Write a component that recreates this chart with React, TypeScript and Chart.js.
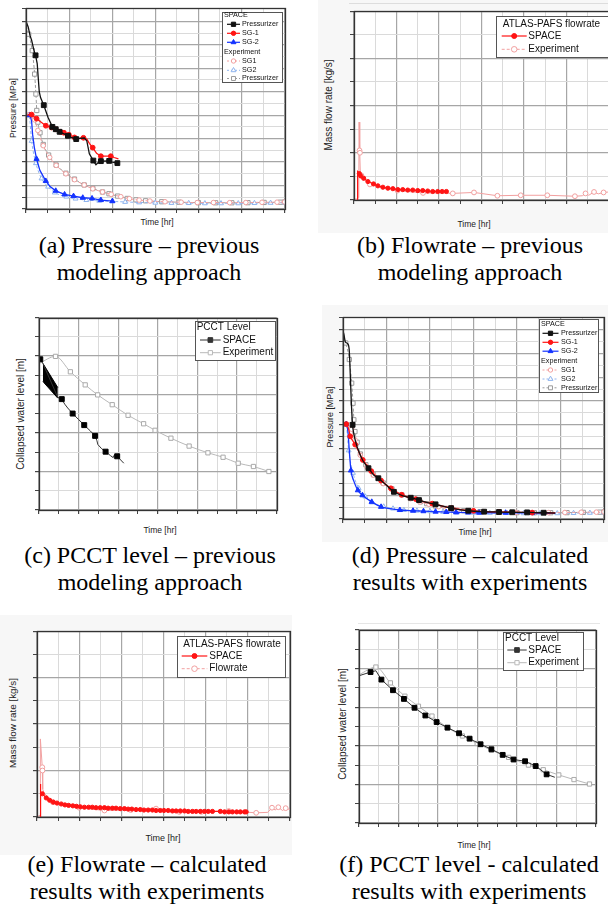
import React, { useEffect, useRef } from "react";
import { Chart, registerables } from "chart.js";

Chart.register(...registerables);

type P = [number, number];

const SANS = "'Liberation Sans', Arial, Helvetica, sans-serif";
const SERIF = "'Liberation Serif', 'Times New Roman', Times, serif";

const BLACK = "#111111";
const RED = "#ff1414";
const BLUE = "#1433ff";
const EXP_RED = "#f2a0a0";
const EXP_BLUE = "#8fb4ee";
const EXP_GRAY = "#9b9b9b";
const LVL_GRAY = "#b9b9b9";

// ---------- shared time axis ----------
const TIME_MAX = 24;

// ---------- (a) pressure, previous modelling ----------
const aSpacePzr: P[] = [[0,16.0],[0.21,15.5],[0.37,14.8],[0.52,14.4],[0.77,13.4],[0.89,13.1],[1.04,12.4],[1.23,10.0],[1.35,9.5],[1.65,8.85],[2.05,7.8],[2.45,7.0],[2.76,6.8],[3.12,6.58],[3.58,6.38],[3.89,6.24],[4.2,6.1],[4.66,5.96],[4.96,6.02],[5.42,6.05],[5.64,5.82],[5.88,4.7],[6.25,4.13],[6.49,3.77],[6.8,4.05],[6.95,4.08],[7.72,4.1],[8.02,3.99],[8.48,3.91]];
const aSpacePzrMarks = [5,9,11,12,13,15,17,22,25,26,28];
const aSpaceSg1: P[] = [[0,8.0],[0.52,8.05],[0.98,7.7],[1.84,7.1],[2.36,6.95],[2.76,6.8],[3.19,6.58],[3.52,6.5],[3.98,6.33],[4.5,6.1],[4.87,6.0],[5.33,6.07],[5.64,5.96],[5.88,5.6],[6.19,5.23],[6.55,4.75],[6.95,4.5],[7.41,4.5],[7.87,4.5],[8.18,4.39],[8.58,4.27]];
const aSpaceSg1Marks = [1,2,3,4,5,6,7,8,9,11,14,16,18];
const aSpaceSg2: P[] = [[0,7.93],[0.37,8.0],[0.52,7.5],[0.61,6.38],[0.77,5.26],[0.98,4.27],[1.29,3.29],[1.84,2.39],[2.21,1.94],[2.76,1.55],[3.58,1.24],[4.41,1.1],[5.27,0.96],[6.13,0.9],[6.95,0.76],[8.02,0.67]];
const aSpaceSg2Marks = [1,5,7,9,10,11,12,13,14,15];

// ---------- (d) pressure, calculated ----------
const dSpacePzr: P[] = [[0,15.9],[0.09,15.6],[0.21,15.0],[0.46,14.8],[0.58,14.2],[0.67,12.2],[0.76,10.0],[0.88,7.97],[1.0,7.2],[1.2,6.4],[1.5,5.6],[1.82,4.95],[2.34,4.3],[2.8,3.75],[3.25,3.45],[3.95,2.9],[4.68,2.3],[5.53,1.95],[6.23,1.8],[6.99,1.6],[7.96,1.35],[8.51,1.24],[9.18,1.08],[9.94,0.92],[10.7,0.8],[11.52,0.7],[12.98,0.62],[14.35,0.59],[15.56,0.57],[16.93,0.56],[18.45,0.53],[19.51,0.5]];
const dSpacePzrMarks = [7,12,14,16,18,19,21,23,25,26,27,28,29,30];
const dSpaceSg1: P[] = [[0,7.97],[0.3,8.03],[0.52,7.6],[0.67,7.0],[0.91,6.6],[1.12,6.3],[1.4,5.8],[1.82,5.0],[2.2,4.55],[2.6,4.05],[3.0,3.65],[3.5,3.25],[3.9,2.95],[4.4,2.6],[4.9,2.3],[5.4,2.05],[6.0,1.85],[6.7,1.68],[7.4,1.48],[8.2,1.3],[9.1,1.1],[10.0,0.92],[11.0,0.78],[12.0,0.69],[13.13,0.63],[14.35,0.6],[15.87,0.57],[17.39,0.54],[19.51,0.51]];
const dSpaceSg1Marks = [1,3,5,7,9,11,13,15,17,19,21,23,25,27];
const dSpaceSg2: P[] = [[0,8.03],[0.3,8.03],[0.46,7.33],[0.58,5.79],[0.73,4.11],[0.97,3.27],[1.37,2.43],[1.79,2.01],[2.64,1.45],[3.5,1.03],[4.32,0.87],[5.23,0.76],[6.44,0.7],[7.4,0.66],[8.51,0.62],[9.5,0.59],[10.4,0.56],[11.5,0.54],[12.52,0.53],[14.95,0.53],[17.39,0.5],[19.51,0.48]];
const dSpaceSg2Marks = [1,4,6,7,8,9,11,12,13,14,15,16,17,18,19,20];

// ---------- experiment pressures (a) and (d) ----------
const expPzr: P[] = [[0,15.6],[0.25,14.9],[0.58,13.5],[0.8,11.5],[0.92,9.8],[1.0,8.4],[1.1,7.4],[1.3,6.5],[1.6,5.5],[2.1,4.6],[2.8,3.75],[3.7,3.05],[4.5,2.55],[5.4,2.05],[6.2,1.75],[7.1,1.45],[7.7,1.3],[8.5,1.1],[9.4,0.9],[10.2,0.78],[11.1,0.7],[12.6,0.62],[14.2,0.58],[16.0,0.54],[17.6,0.53],[19.1,0.53],[20.6,0.54],[22.1,0.56],[23.6,0.58],[24,0.6]];
const expSg1: P[] = [[0,8.05],[0.3,8.05],[0.55,7.95],[0.8,7.6],[1.1,6.7],[1.6,5.4],[2.2,4.4],[2.8,3.72],[3.7,3.0],[4.5,2.5],[5.4,2.05],[6.2,1.72],[7.1,1.45],[7.9,1.25],[8.8,1.05],[9.6,0.88],[10.5,0.76],[11.5,0.68],[12.9,0.62],[14.4,0.58],[15.9,0.55],[17.4,0.55],[18.9,0.54],[20.4,0.55],[21.9,0.57],[23.3,0.58],[24,0.6]];
const expSg2: P[] = [[0,8.2],[0.3,7.95],[0.52,5.8],[0.92,3.9],[1.44,2.6],[2.05,1.9],[2.66,1.4],[3.74,1.05],[4.6,0.88],[5.6,0.76],[6.8,0.7],[8.0,0.65],[9.2,0.6],[10.5,0.56],[12.0,0.53],[13.5,0.51],[15.1,0.5],[16.6,0.48],[18.1,0.48],[19.7,0.48],[21.2,0.5],[22.7,0.52],[24,0.55]];

// ---------- (b) flowrate, previous ----------
const bSpace: P[] = [[0.32,0],[0.34,0.6],[0.4,0.58],[0.5,0.56],[0.63,0.51],[0.91,0.46],[1.31,0.39],[1.84,0.34],[2.25,0.3],[2.72,0.27],[3.19,0.25],[3.66,0.24],[4.13,0.22],[4.59,0.22],[5.06,0.21],[5.53,0.21],[6.0,0.2],[6.47,0.2],[6.94,0.19],[7.41,0.18],[7.88,0.18],[8.3,0.18],[8.7,0.18]];
const bExp: P[] = [[0,0.02],[0.3,0.02],[0.45,0.05],[0.48,1.65],[0.52,1.05],[0.56,1.0],[0.6,0.55],[0.7,0.52],[1.5,0.33],[4.1,0.2],[6.5,0.15],[9.3,0.14],[11.3,0.16],[13.5,0.09],[15.7,0.1],[18.2,0.1],[20.8,0.08],[21.5,0.09],[21.8,0.14],[22.1,0.1],[22.6,0.17],[23.0,0.13],[23.5,0.16],[24,0.17]];
const bExpMarks = [4,5,7,8,9,10,11,12,13,14,15,16,18,20,22];

// ---------- (e) flowrate, calculated ----------
const eSpace: P[] = [[0.3,0.0],[0.32,0.71],[0.36,0.52],[0.51,0.5],[0.88,0.41],[1.2,0.36],[1.55,0.32],[1.9,0.3],[2.3,0.28],[2.65,0.26],[3.0,0.25],[3.4,0.24],[3.75,0.23],[4.1,0.22],[4.5,0.21],[4.9,0.21],[5.25,0.21],[5.6,0.2],[6.0,0.2],[6.4,0.2],[6.75,0.19],[7.15,0.19],[7.5,0.19],[7.9,0.18],[8.3,0.18],[8.65,0.17],[9.0,0.17],[9.4,0.16],[9.8,0.16],[10.15,0.15],[10.55,0.15],[10.95,0.15],[11.3,0.14],[11.7,0.14],[12.05,0.14],[12.45,0.14],[12.85,0.13],[13.2,0.13],[13.6,0.13],[14.0,0.13],[14.35,0.12],[14.75,0.12],[15.1,0.12],[15.5,0.12],[15.9,0.12],[16.25,0.12],[16.65,0.12],[17.4,0.12],[17.8,0.11],[18.2,0.11],[18.55,0.11],[18.95,0.11],[19.3,0.11],[19.7,0.11],[19.85,0.11]];
const eExp: P[] = [[0,0.02],[0.2,0.02],[0.29,0.05],[0.32,1.68],[0.5,1.07],[0.52,1.0],[0.56,0.6],[0.65,0.52],[1.5,0.32],[4.0,0.2],[6.4,0.14],[8.9,0.15],[11.3,0.18],[13.5,0.11],[15.6,0.11],[18.2,0.13],[20.8,0.09],[21.9,0.1],[22.3,0.2],[22.6,0.15],[22.9,0.21],[23.3,0.14],[23.6,0.19],[24,0.16]];
const eExpMarks = [4,5,8,9,10,11,12,13,14,15,16,18,20,22];

// ---------- (c) PCCT level, previous ----------
const cSpace: P[] = [[0.13,7.83],[0.4,7.61],[1.9,5.85],[2.3,5.76],[2.6,5.5],[2.9,5.3],[3.4,5.01],[4.0,4.7],[4.57,4.41],[5.2,4.1],[5.67,3.85],[5.85,3.6],[5.95,3.4],[6.3,3.2],[6.73,3.03],[7.23,2.82],[7.5,2.72],[7.6,2.85],[7.9,2.79],[8.57,2.43]];
const cSpaceMarks = [0,3,6,8,10,14,18];
const cBandUpper: P[] = [[0.4,7.61],[1.9,6.36]];
const cBandLower: P[] = [[0.4,6.7],[0.47,6.63],[1.9,5.81]];
const cExp: P[] = [[0,7.61],[1.67,7.98],[3.17,7.18],[4.67,6.5],[5.93,5.98],[7.4,5.47],[9.0,4.92],[10.57,4.48],[11.73,4.14],[13.33,3.73],[15.17,3.32],[17.07,2.97],[18.6,2.74],[20.13,2.43],[21.67,2.26],[23.23,2.0]];

// ---------- (f) PCCT level, calculated ----------
const fSpace: P[] = [[0,7.63],[1.17,7.82],[1.71,7.89],[2.27,7.43],[3.44,6.88],[4.55,6.43],[5.62,5.97],[6.72,5.57],[7.86,5.23],[8.96,4.94],[10.13,4.65],[11.2,4.37],[12.31,4.08],[13.41,3.82],[14.55,3.53],[15.65,3.29],[16.82,3.2],[17.89,2.95],[19.0,2.52],[19.83,2.37]];
const fSpaceMarks = [1,3,4,5,6,7,8,9,10,11,12,13,14,15,16,17,18];
const fExp: P[] = [[0,7.68],[1.71,8.08],[3.18,7.26],[4.65,6.57],[6.02,6.05],[7.39,5.54],[8.96,4.94],[10.47,4.51],[11.97,4.12],[13.41,3.77],[15.15,3.4],[17.16,3.0],[18.66,2.76],[20.23,2.49],[21.77,2.25],[23.34,2.02]];

// ---------- helpers ----------
type Marks = number[] | { from: number };
interface SOpt {
  color: string; width?: number; dash?: number[]; marker?: string; r?: number;
  filled?: boolean; marks?: Marks; smooth?: boolean; markColor?: string; fill?: any; bg?: string;
}
function series(data: P[], o: SOpt) {
  const isMarked = (i: number) => {
    const m = o.marks;
    if (!m) return false;
    if (Array.isArray(m)) return m.includes(i);
    return i >= m.from;
  };
  return {
    data: data.map(([x, y]) => ({ x, y })),
    borderColor: o.color,
    backgroundColor: o.bg ?? o.color,
    borderWidth: o.width ?? 1,
    borderDash: o.dash ?? [],
    pointStyle: o.marker ?? "circle",
    pointRadius: (c: any) => (isMarked(c.dataIndex) ? o.r ?? 2.5 : 0),
    pointHoverRadius: 0,
    pointBackgroundColor: o.filled ? o.markColor ?? o.color : "#ffffff",
    pointBorderColor: o.markColor ?? o.color,
    pointBorderWidth: 1,
    cubicInterpolationMode: o.smooth ? "monotone" : "default",
    tension: 0,
    fill: o.fill ?? false,
  };
}

function drawMarker(ctx: CanvasRenderingContext2D, kind: string | undefined, x: number, y: number, r: number, filled: boolean, color: string) {
  if (!kind) return;
  ctx.save();
  ctx.setLineDash([]);
  ctx.lineWidth = 1;
  ctx.strokeStyle = color;
  ctx.fillStyle = filled ? color : "#ffffff";
  ctx.beginPath();
  if (kind === "circle") ctx.arc(x, y, r, 0, Math.PI * 2);
  else if (kind === "rect") { const s = r * Math.SQRT1_2; ctx.rect(x - s, y - s, 2 * s, 2 * s); }
  else if (kind === "triangle") {
    ctx.moveTo(x, y - r);
    ctx.lineTo(x + r * 0.866, y + r * 0.5);
    ctx.lineTo(x - r * 0.866, y + r * 0.5);
    ctx.closePath();
  }
  ctx.fill();
  ctx.stroke();
  ctx.restore();
}

interface LegendItem { text: string; y: number; color?: string; dash?: number[]; marker?: string; r?: number; filled?: boolean; width?: number }
interface LegendCfg { box: [number, number, number, number]; font: number; headX: number; lineX: [number, number]; textX: number; items: LegendItem[] }

function legendPlugin(L: LegendCfg, ox: number, oy: number) {
  return {
    id: "boxLegend",
    afterDraw(chart: any) {
      const ctx: CanvasRenderingContext2D = chart.ctx;
      ctx.save();
      const [bx, by, bw, bh] = L.box;
      const x0 = Math.round(bx - ox) + 0.5, y0 = Math.round(by - oy) + 0.5;
      ctx.fillStyle = "#ffffff";
      ctx.fillRect(x0, y0, bw, bh);
      ctx.strokeStyle = "#555555";
      ctx.lineWidth = 1;
      ctx.strokeRect(x0, y0, Math.round(bw), Math.round(bh));
      ctx.font = `${L.font}px ${SANS}`;
      ctx.textBaseline = "middle";
      for (const it of L.items) {
        const y = it.y - oy;
        if (!it.color) {
          ctx.fillStyle = "#111111";
          ctx.fillText(it.text, L.headX - ox, y);
          continue;
        }
        ctx.strokeStyle = it.color;
        ctx.lineWidth = it.width ?? 1;
        ctx.setLineDash(it.dash ?? []);
        ctx.beginPath();
        ctx.moveTo(L.lineX[0] - ox, y);
        ctx.lineTo(L.lineX[1] - ox, y);
        ctx.stroke();
        ctx.setLineDash([]);
        drawMarker(ctx, it.marker, (L.lineX[0] + L.lineX[1]) / 2 - ox, y, it.r ?? 2.5, !!it.filled, it.color);
        ctx.fillStyle = "#111111";
        ctx.fillText(it.text, L.textX - ox, y);
      }
      ctx.restore();
    },
  };
}

const framePlugin = {
  id: "originFrame",
  beforeDraw(chart: any) {
    const { ctx, chartArea: a } = chart;
    ctx.save();
    ctx.fillStyle = "#ffffff";
    ctx.fillRect(a.left, a.top, a.right - a.left, a.bottom - a.top);
    ctx.restore();
  },
  afterDatasetsDraw(chart: any) {
    const { ctx, chartArea: a } = chart;
    ctx.save();
    ctx.strokeStyle = "#333333";
    ctx.lineWidth = 1.3;
    const l = Math.round(a.left) + 0.5, t = Math.round(a.top) + 0.5;
    ctx.strokeRect(l, t, Math.round(a.right) - Math.round(a.left), Math.round(a.bottom) - Math.round(a.top));
    ctx.restore();
  },
};

const MAJOR = "#a6a6a6";
const MINOR = "#dadada";

interface PanelCfg {
  l: number; t: number; r: number; b: number;
  yMax: number; yStep: number; yMajor: number;
  datasets: any[]; legend: LegendCfg;
}

const PAD_L = 6, PAD_T = 2, PAD_R = 2, PAD_B = 6;

function Plot({ p }: { p: PanelCfg }) {
  const ref = useRef<HTMLCanvasElement | null>(null);
  const cl = p.l - PAD_L, ct = p.t - PAD_T;
  const w = p.r - p.l + PAD_L + PAD_R, h = p.b - p.t + PAD_T + PAD_B;
  useEffect(() => {
    if (!ref.current) return;
    const isMaj = (v: number, m: number) => Math.abs(v / m - Math.round(v / m)) < 1e-6;
    const chart = new Chart(ref.current, {
      type: "line",
      data: { datasets: p.datasets },
      options: {
        responsive: false,
        animation: false,
        devicePixelRatio: 1,
        events: [],
        layout: { padding: { left: 2, right: 2, top: 2, bottom: 2 } },
        plugins: { legend: { display: false }, tooltip: { enabled: false } },
        scales: {
          x: {
            type: "linear", min: 0, max: TIME_MAX,
            ticks: { display: false, stepSize: 2, autoSkip: false },
            grid: {
              color: (c: any) => (isMaj(c.tick.value, 4) ? MAJOR : MINOR),
              lineWidth: (c: any) => (isMaj(c.tick.value, 4) ? 1.2 : 1),
              tickLength: 4, tickColor: "#444444", drawTicks: true,
            },
            border: { display: false },
          },
          y: {
            type: "linear", min: 0, max: p.yMax,
            ticks: { display: false, stepSize: p.yStep, autoSkip: false },
            grid: {
              color: (c: any) => (isMaj(c.tick.value, p.yMajor) ? MAJOR : MINOR),
              lineWidth: (c: any) => (isMaj(c.tick.value, p.yMajor) ? 1.2 : 1),
              tickLength: 4, tickColor: "#444444", drawTicks: true,
            },
            border: { display: false },
          },
        },
      } as any,
      plugins: [framePlugin, legendPlugin(p.legend, cl, ct)],
    });
    return () => chart.destroy();
  }, []);
  return <canvas ref={ref} width={w} height={h} style={{ position: "absolute", left: cl, top: ct, width: w, height: h }} />;
}

// ---------- panel definitions ----------
const pressureSets = (pzr: P[], pzrM: number[], sg1: P[], sg1M: number[], sg2: P[], sg2M: number[], smooth: boolean) => [
  series(pzr, { color: BLACK, width: 1.3, marker: "rect", r: 3.4, filled: true, marks: pzrM, smooth }),
  series(sg1, { color: RED, width: 1.3, marker: "circle", r: 2.4, filled: true, marks: sg1M, smooth }),
  series(sg2, { color: BLUE, width: 1.3, marker: "triangle", r: 3, filled: true, marks: sg2M, smooth }),
  series(expSg1, { color: EXP_RED, width: 1, dash: [3, 2], marker: "circle", r: 2.3, marks: { from: 1 }, smooth: true }),
  series(expSg2, { color: EXP_BLUE, width: 1, dash: [3, 2], marker: "triangle", r: 2.8, marks: { from: 1 }, smooth: true }),
  series(expPzr, { color: EXP_GRAY, width: 1, dash: [3, 2], marker: "rect", r: 3, marks: { from: 1 }, smooth: true }),
];

const pressureLegend = (box: [number, number, number, number], headX: number, lineX: [number, number], textX: number, ys: number[]): LegendCfg => ({
  box, font: 7.2, headX, lineX, textX,
  items: [
    { text: "SPACE", y: ys[0] },
    { text: "Pressurizer", y: ys[1], color: BLACK, marker: "rect", r: 3, filled: true, width: 1.2 },
    { text: "SG-1", y: ys[2], color: RED, marker: "circle", r: 2.2, filled: true, width: 1.2 },
    { text: "SG-2", y: ys[3], color: BLUE, marker: "triangle", r: 2.8, filled: true, width: 1.2 },
    { text: "Experiment", y: ys[4] },
    { text: "SG1", y: ys[5], color: EXP_RED, dash: [2, 2], marker: "circle", r: 2.2 },
    { text: "SG2", y: ys[6], color: EXP_BLUE, dash: [2, 2], marker: "triangle", r: 2.8 },
    { text: "Pressurizer", y: ys[7], color: EXP_GRAY, dash: [2, 2], marker: "rect", r: 2.8 },
  ],
});

const flowLegend = (box: [number, number, number, number], headX: number, lineX: [number, number], textX: number, ys: number[], expName: string): LegendCfg => ({
  box, font: 10, headX, lineX, textX,
  items: [
    { text: "ATLAS-PAFS flowrate", y: ys[0] },
    { text: "SPACE", y: ys[1], color: RED, marker: "circle", r: 2.5, filled: true, width: 1.2 },
    { text: expName, y: ys[2], color: EXP_RED, dash: [3, 2], marker: "circle", r: 2.8 },
  ],
});

const levelLegend = (box: [number, number, number, number], headX: number, lineX: [number, number], textX: number, ys: number[]): LegendCfg => ({
  box, font: 10, headX, lineX, textX,
  items: [
    { text: "PCCT Level", y: ys[0] },
    { text: "SPACE", y: ys[1], color: "#333333", marker: "rect", r: 3.3, filled: true, width: 1 },
    { text: "Experiment", y: ys[2], color: LVL_GRAY, marker: "rect", r: 3.0, width: 1 },
  ],
});

const panelA: PanelCfg = {
  l: 26, t: 6, r: 287, b: 209, yMax: 17.1, yStep: 1, yMajor: 2,
  datasets: pressureSets(aSpacePzr, aSpacePzrMarks, aSpaceSg1, aSpaceSg1Marks, aSpaceSg2, aSpaceSg2Marks, false),
  legend: pressureLegend([222, 12, 60, 70], 224, [227, 240], 242, [15.5, 24.3, 33.3, 42.3, 51.7, 61, 70.3, 78.5]),
};
const panelD: PanelCfg = {
  l: 343, t: 315, r: 606, b: 519, yMax: 17.1, yStep: 1, yMajor: 2,
  datasets: pressureSets(dSpacePzr, dSpacePzrMarks, dSpaceSg1, dSpaceSg1Marks, dSpaceSg2, dSpaceSg2Marks, true),
  legend: pressureLegend([539, 319, 59, 73], 541, [542.5, 558.5], 561, [324.3, 333.3, 342.3, 351.2, 360.7, 370, 379, 387.8]),
};
const panelB: PanelCfg = {
  l: 354, t: 10, r: 610, b: 200, yMax: 4, yStep: 0.5, yMajor: 1,
  datasets: [
    series(bSpace, { color: RED, width: 1.2, marker: "circle", r: 2.1, filled: true, marks: { from: 3 } }),
    series(bExp, { color: EXP_RED, width: 1, marker: "circle", r: 2.4, marks: bExpMarks }),
  ],
  legend: flowLegend([496, 16, 118, 41], 502.7, [501.7, 526.7], 528.3, [24, 36, 49.3], "Experiment"),
};
const panelE: PanelCfg = {
  l: 37, t: 630, r: 291, b: 817, yMax: 4, yStep: 0.5, yMajor: 1,
  datasets: [
    series(eSpace, { color: RED, width: 1.2, marker: "circle", r: 2.1, filled: true, marks: { from: 3 } }),
    series(eExp, { color: EXP_RED, width: 1, marker: "circle", r: 2.4, marks: eExpMarks }),
  ],
  legend: flowLegend([177, 636, 108, 41], 183.3, [181.7, 207.3], 209.3, [644, 656, 668.7], "Flowrate"),
};
const panelC: PanelCfg = {
  l: 39, t: 315, r: 279, b: 510, yMax: 10, yStep: 1, yMajor: 2,
  datasets: [
    series(cSpace, { color: "#333333", width: 1, marker: "rect", r: 3.5, filled: true, marks: cSpaceMarks, markColor: "#000000" }),
    series(cBandUpper, { color: "#000000", width: 1, fill: "+1", bg: "#000000" }),
    series(cBandLower, { color: "#000000", width: 1 }),
    series(cExp, { color: LVL_GRAY, width: 1, marker: "rect", r: 3.0, marks: { from: 1 }, smooth: true, markColor: "#aaaaaa" }),
  ],
  legend: levelLegend([195, 321, 80, 39], 196.7, [200, 220.7], 222.7, [327.3, 340, 352.7]),
};
const panelF: PanelCfg = {
  l: 359, t: 628, r: 598, b: 823, yMax: 10, yStep: 1, yMajor: 2,
  datasets: [
    series(fSpace, { color: "#333333", width: 1, marker: "rect", r: 3.4, filled: true, marks: fSpaceMarks, markColor: "#000000" }),
    series(fExp, { color: LVL_GRAY, width: 1, marker: "rect", r: 3.0, marks: { from: 1 }, smooth: true, markColor: "#aaaaaa" }),
  ],
  legend: levelLegend([503, 632, 80, 38], 505, [507.3, 526.7], 528.3, [638.3, 650, 662.7]),
};

// ---------- text ----------
function Label({ x, y, text, size, rotate }: { x: number; y: number; text: string; size: number; rotate?: boolean }) {
  return (
    <div
      style={{
        position: "absolute", left: x, top: y, fontFamily: SANS, fontSize: size, color: "#222",
        whiteSpace: "nowrap", lineHeight: 1,
        transform: `translate(-50%, -50%)${rotate ? " rotate(-90deg)" : ""}`,
      }}
    >
      {text}
    </div>
  );
}

function Caption({ x, y, lines }: { x: number; y: number; lines: string[] }) {
  return (
    <div
      style={{
        position: "absolute", left: x - 150, top: y, width: 300, textAlign: "center",
        fontFamily: SERIF, fontSize: 24, lineHeight: "27px", color: "#000", whiteSpace: "nowrap",
      }}
    >
      {lines.map((l, i) => (
        <div key={i}>{l}</div>
      ))}
    </div>
  );
}

export default function App() {
  return (
    <div style={{ position: "absolute", left: 0, top: 0, width: 608, height: 909, overflow: "hidden", background: "#ffffff" }}>
      {/* slightly tinted scan backgrounds */}
      <div style={{ position: "absolute", left: 318, top: 0, width: 290, height: 233, background: "#f7f7f7" }} />
      <div style={{ position: "absolute", left: 322, top: 305, width: 286, height: 237, background: "#f7f7f7" }} />
      <div style={{ position: "absolute", left: 0, top: 615, width: 292, height: 240, background: "#f7f7f7" }} />
      <div style={{ position: "absolute", left: 349, top: 3, width: 259, height: 1, background: "#dddddd" }} />
      <div style={{ position: "absolute", left: 358, top: 623, width: 242, height: 1, background: "#e6e6e6" }} />

      <Plot p={panelA} />
      <Plot p={panelB} />
      <Plot p={panelC} />
      <Plot p={panelD} />
      <Plot p={panelE} />
      <Plot p={panelF} />

      <Label x={13} y={108} text="Pressure [MPa]" size={8.7} rotate />
      <Label x={157} y={222} text="Time [hr]" size={8.5} />
      <Label x={329} y={105} text="Mass flow rate [kg/s]" size={10} rotate />
      <Label x={474} y={224} text="Time [hr]" size={8.5} />
      <Label x={21} y={414} text="Collapsed water level [m]" size={10} rotate />
      <Label x={160} y={530} text="Time [hr]" size={8.5} />
      <Label x={330} y={417} text="Pressure [MPa]" size={8.9} rotate />
      <Label x={475} y={532} text="Time [hr]" size={8.5} />
      <Label x={13} y={723} text="Mass flow rate [kg/s]" size={9.9} rotate />
      <Label x={163} y={838} text="Time [hr]" size={9} />
      <Label x={343} y={724} text="Collapsed water level [m]" size={10} rotate />
      <Label x={474} y={845} text="Time [hr]" size={8.5} />

      <Caption x={149} y={232} lines={["(a) Pressure \u2013 previous", "modeling approach"]} />
      <Caption x={470} y={232} lines={["(b) Flowrate \u2013 previous", "modeling approach"]} />
      <Caption x={150} y={542} lines={["(c) PCCT level \u2013 previous", "modeling approach"]} />
      <Caption x={470} y={542} lines={["(d) Pressure \u2013 calculated", "results with experiments"]} />
      <Caption x={147} y={851} lines={["(e) Flowrate \u2013 calculated", "results with experiments"]} />
      <Caption x={469} y={851} lines={["(f) PCCT level - calculated", "results with experiments"]} />
    </div>
  );
}
